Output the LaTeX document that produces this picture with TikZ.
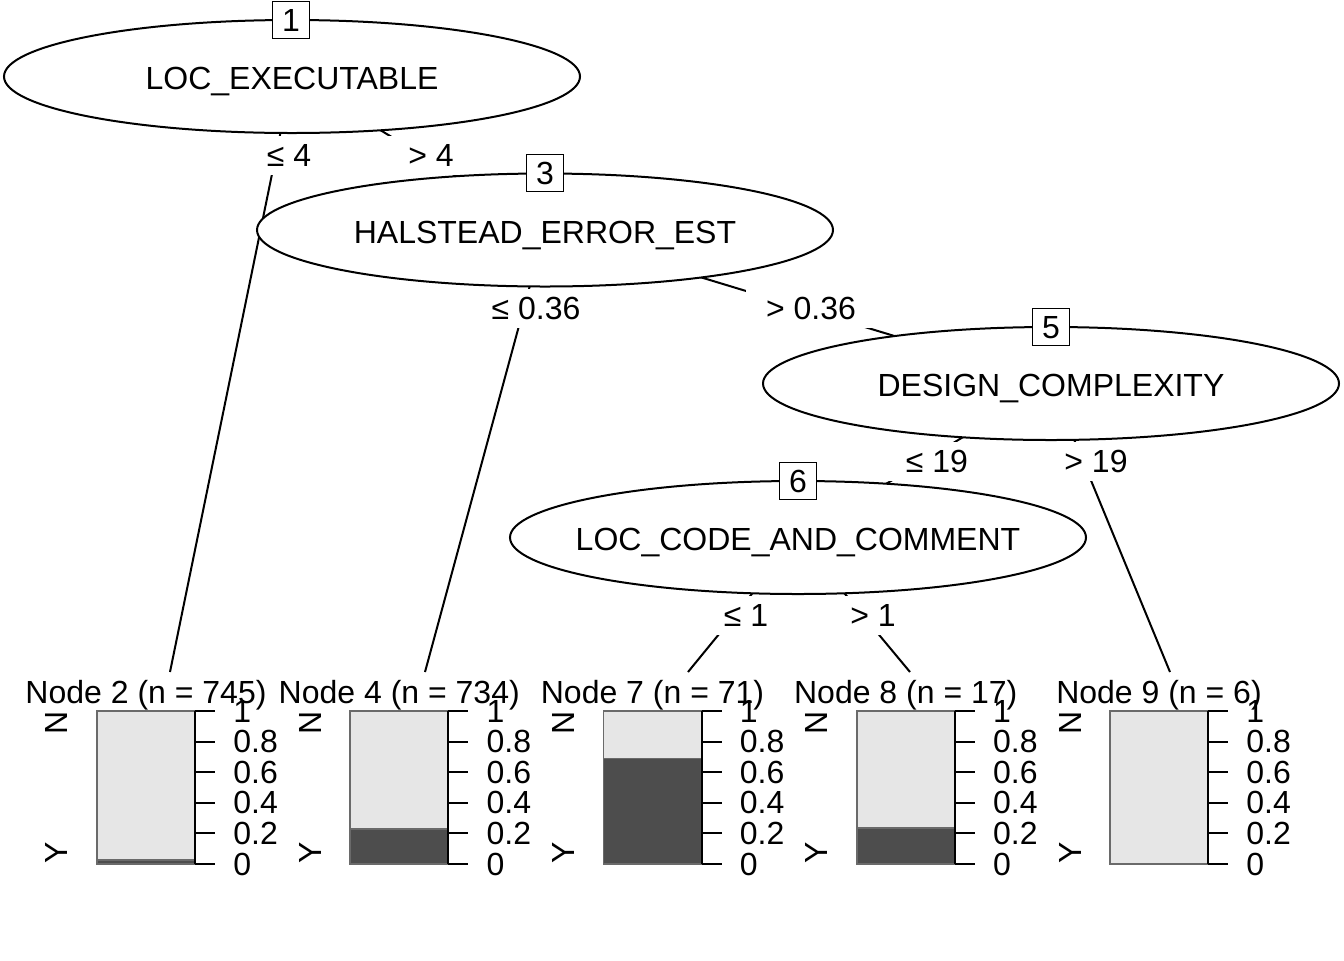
\documentclass[tikz,border=0pt]{standalone}
\usepackage{fontspec}
\setmainfont{Liberation Sans}
\usetikzlibrary{shapes.geometric}
\pgfdeclarelayer{bg}
\pgfsetlayers{bg,main}
\definecolor{lightbar}{HTML}{E6E6E6}
\definecolor{darkbar}{HTML}{4D4D4D}
\definecolor{barborder}{HTML}{6A6A6A}

\newcommand\mybarpanel[4]{% #1 left x (px), #2 fraction Y, #3 node id, #4 n
  \pgfmathsetmacro\xr{#1+98}
  \pgfmathsetmacro\xc{#1+49}
  \pgfmathsetmacro\ys{864-153*#2}
  \draw[barline, fill=lightbar] (#1,711) rectangle (\xr,\ys);
  \draw[barline, fill=darkbar] (#1,\ys) rectangle (\xr,864);
  \draw[axisline] (\xr,711) -- (\xr,864);
  \foreach \v/\t [count=\i] in {0/0,0.2/0.2,0.4/0.4,0.6/0.6,0.8/0.8,1/1}{
    \pgfmathsetmacro\yy{864-153*\v}
    \draw[axisline] (\xr,\yy) -- (\xr+20,\yy);
    \node[anchor=west] (tick#3-\i) at (\xr+38,\yy) {\t};
  }
  \node[anchor=base] (lab#3) at (\xc,703) {Node #3 (n = #4)};
  \node[rotate=90, anchor=base east] (yn#3) at (#1-29,711) {N};
  \node[rotate=90, anchor=base west] (yy#3) at (#1-29,864) {Y};
}

\begin{document}
\begin{tikzpicture}[x=0.5pt,y=-0.5pt,
  every node/.style={font=\fontsize{16}{19}\selectfont, inner sep=0pt},
  splitnode/.style={draw, ellipse, fill=white, line width=1pt, minimum width=288pt, minimum height=56.5pt},
  splittext/.style={text height=11.5pt, text depth=0pt},
  idbox/.style={draw, fill=white, line width=0.8pt, minimum width=18.5pt, minimum height=18.5pt, text height=11.5pt, text depth=0pt},
  edgelab/.style={fill=white, text height=11.5pt, text depth=0pt, inner xsep=10pt, inner ysep=4pt},
  edgeline/.style={line width=1pt},
  barline/.style={draw=barborder, line width=0.8pt},
  axisline/.style={line width=1pt}]
\useasboundingbox (0,0) rectangle (1344,960);

% inner nodes
\node[splitnode] (n1) at (292,76.5) {};
\node[splittext] (t1) at (292,78) {LOC\_EXECUTABLE};
\node[idbox] (b1) at (291,20) {1};

\node[splitnode] (n3) at (545,230) {};
\node[splittext] (t3) at (545,231.5) {HALSTEAD\_ERROR\_EST};
\node[idbox] (b3) at (545,173) {3};

\node[splitnode] (n5) at (1051,383.5) {};
\node[splittext] (t5) at (1051,385) {DESIGN\_COMPLEXITY};
\node[idbox] (b5) at (1051,327) {5};

\node[splitnode] (n6) at (798,537.5) {};
\node[splittext] (t6) at (798,539) {LOC\_CODE\_AND\_COMMENT};
\node[idbox] (b6) at (798,481) {6};

% terminal edge ends
\coordinate (e2) at (170,672);
\coordinate (e4) at (425,672);
\coordinate (e7) at (688,672);
\coordinate (e8) at (910,672);
\coordinate (e9) at (1170,672);

\begin{pgfonlayer}{bg}
\draw[edgeline] (n1.center) -- (e2);
\draw[edgeline] (n1.center) -- (n3.center);
\draw[edgeline] (n3.center) -- (e4);
\draw[edgeline] (n3.center) -- (n5.center);
\draw[edgeline] (n5.center) -- (n6.center);
\draw[edgeline] (n5.center) -- (e9);
\draw[edgeline] (n6.center) -- (e7);
\draw[edgeline] (n6.center) -- (e8);
\node[edgelab] (l12) at (289,155) {≤ 4};
\node[edgelab] (l13) at (431,155) {> 4};
\node[edgelab] (l34) at (536,308) {≤ 0.36};
\node[edgelab] (l35) at (811,308) {> 0.36};
\node[edgelab] (l56) at (937,461) {≤ 19};
\node[edgelab] (l59) at (1096,461) {> 19};
\node[edgelab] (l67) at (746,615) {≤ 1};
\node[edgelab] (l68) at (873,615) {> 1};
\end{pgfonlayer}

% terminal panels
\mybarpanel{97}{0.0268}{2}{745}
\mybarpanel{350.25}{0.2289}{4}{734}
\mybarpanel{603.5}{0.6901}{7}{71}
\mybarpanel{856.75}{0.2353}{8}{17}
\mybarpanel{1110}{0}{9}{6}
\end{tikzpicture}
\end{document}
